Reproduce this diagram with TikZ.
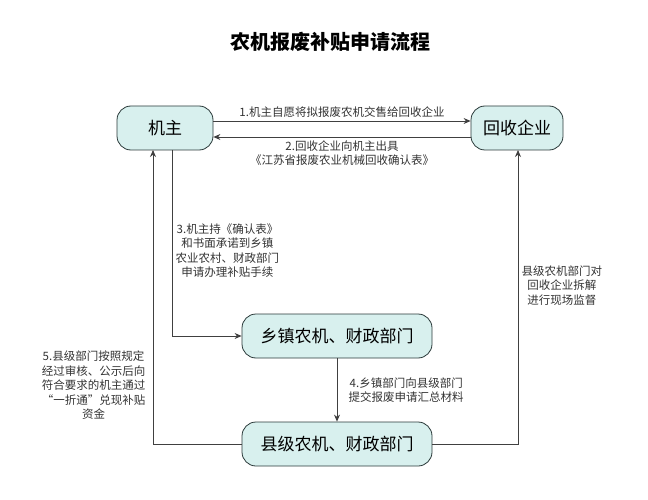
\documentclass[tikz,border=0pt]{standalone}
\usepackage{fontspec}
\setmainfont{Noto Sans CJK SC}
\usetikzlibrary{arrows.meta}
\definecolor{boxfill}{HTML}{D8F0EE}
\definecolor{boxline}{HTML}{2B3A3A}

\begin{document}
\begin{tikzpicture}[x=1pt,y=-1pt,
    block_round/.style ={rectangle, rounded corners=14pt, draw=boxline, thick,
      fill=boxfill, minimum height=44pt, font=\fontsize{17}{20}\selectfont},
    block_text/.style ={draw=none, align=center, font=\fontsize{11.5}{14.5}\selectfont,
      text=black!80},
    line/.style ={draw, thick, black!75, -{Stealth[length=7pt,width=6pt]}}]
    \useasboundingbox (0,0) rectangle (648,500);
    % title
    \node [font=\bfseries\fontsize{20}{24}\selectfont] (title) at (330,42) {农机报废补贴申请流程};
    % boxes
    \node [block_round, minimum width=96pt] (owner) at (165,128) {机主};
    \node [block_round, minimum width=92pt] (firm) at (517,128) {回收企业};
    \node [block_round, minimum width=190pt] (town) at (337,336) {乡镇农机、财政部门};
    \node [block_round, minimum width=190pt] (county) at (337,444) {县级农机、财政部门};
    % turning points
    \coordinate (owner_down) at (172,150);
    \coordinate (owner_up) at (153,150);
    \coordinate (firm_up) at (518,150);
    % connecting nodes with paths
    \path [line] (owner.east |- 0,121) -- node [block_text, above] (l1) {1.机主自愿将拟报废农机交售给回收企业} (firm.west |- 0,121);
    \path [line] (firm.west |- 0,137) -- node [block_text, below] (l2) {2.回收企业向机主出具\\《江苏省报废农业机械回收确认表》} (owner.east |- 0,137);
    \path [line] (owner_down) |- node [block_text, pos=0.27, right] (l3) {3.机主持《确认表》\\和书面承诺到乡镇\\农业农村、财政部门\\申请办理补贴手续} (town.west);
    \path [line] (town) -- node [block_text, right=8pt] (l4) {4.乡镇部门向县级部门\\提交报废申请汇总材料} (county);
    \path [line] (county.east) -| node [block_text, pos=0.77, right] (l5) {县级农机部门对\\回收企业拆解\\进行现场监督} (firm_up);
    \path [line] (county.west) -| node [block_text, pos=0.6, left=4pt] (l6) {5.县级部门按照规定\\经过审核、公示后向\\符合要求的机主通过\\“一折通”兑现补贴\\资金} (owner_up);
\end{tikzpicture}
\end{document}
